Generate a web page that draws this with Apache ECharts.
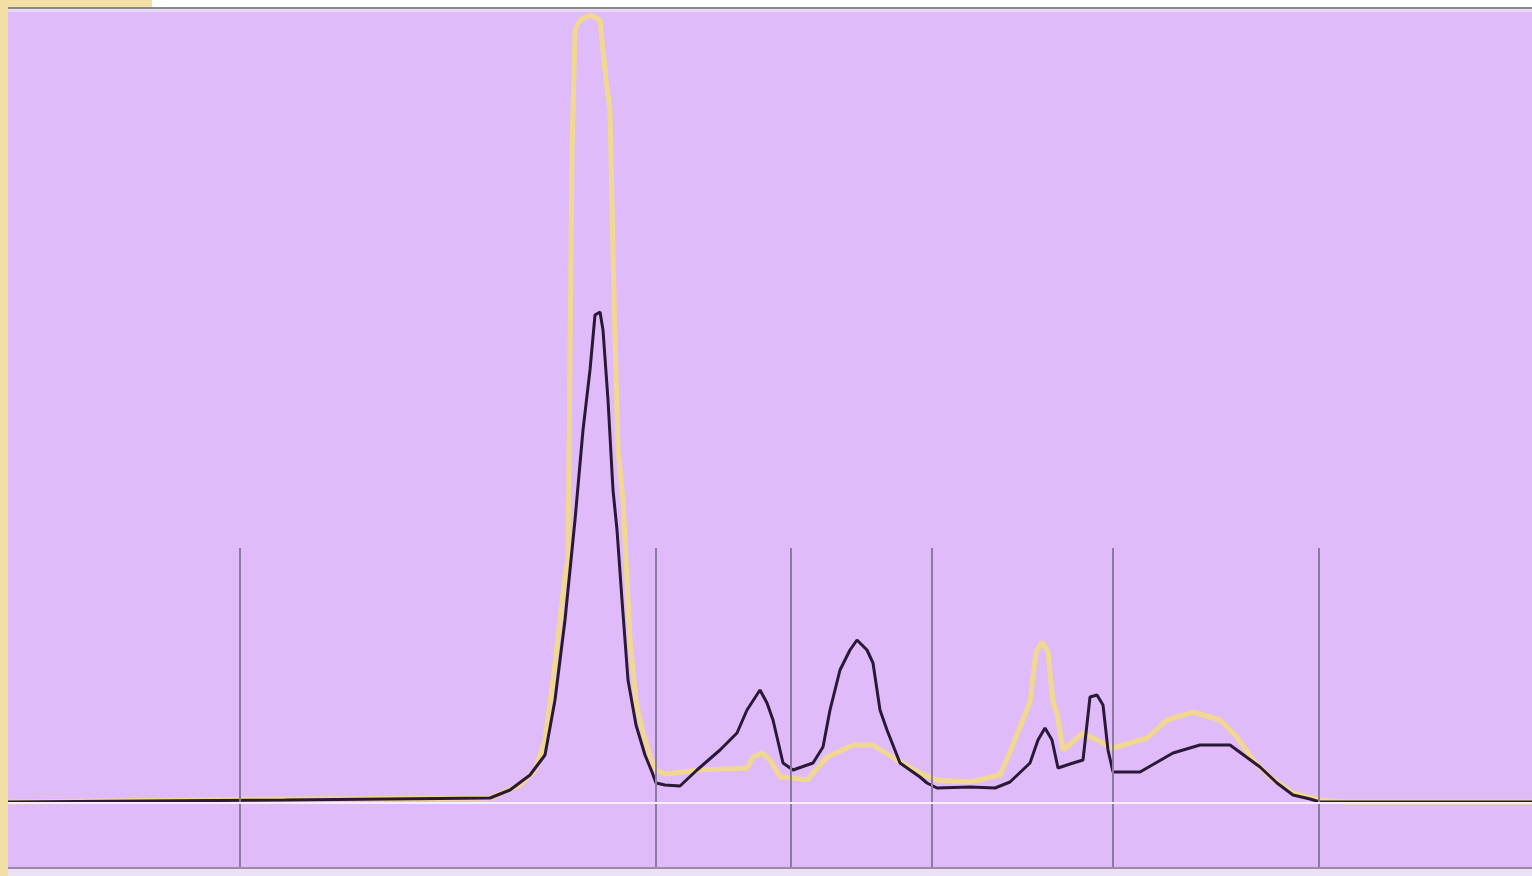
<!DOCTYPE html>
<html>
<head>
<meta charset="utf-8">
<script src="https://cdn.jsdelivr.net/npm/echarts@6/dist/echarts.min.js"></script>
<style>
html,body{margin:0;padding:0;background:#ffffff;}
#c{width:1532px;height:876px;}
</style>
</head>
<body>
<div id="c"></div>
<script>
// x = retention position, y = signal height above baseline (arbitrary units)
const darkX = [8, 285, 490, 510, 530, 545, 555, 565, 575, 583, 590, 595, 600, 603, 608, 613, 617, 622, 628, 636, 645, 652, 656, 665, 680, 697, 720, 737, 747, 760, 767, 773, 780, 783, 793, 813, 823, 830, 840, 850, 857, 867, 873, 880, 887, 900, 920, 927, 937, 970, 995, 1010, 1030, 1038, 1045, 1052, 1058, 1070, 1083, 1090, 1097, 1103, 1108, 1113, 1140, 1173, 1200, 1230, 1260, 1277, 1293, 1310, 1320, 1532];
const darkY = [0, 2, 4, 12, 27, 47, 102, 182, 282, 372, 432, 487, 490, 472, 402, 312, 272, 202, 122, 77, 47, 30, 19, 17, 16, 32, 52, 69, 92, 112, 99, 82, 52, 39, 32, 39, 55, 92, 132, 152, 162, 152, 139, 92, 72, 39, 25, 19, 14, 15, 14, 20, 39, 62, 74, 62, 34, 38, 42, 105, 107, 97, 52, 30, 30, 49, 57, 57, 35, 19, 7, 3, 0, 0];
const lightX = [8, 285, 490, 520, 535, 545, 553, 560, 565, 568, 572, 575, 580, 590, 600, 606, 610, 614, 618, 623, 630, 636, 643, 650, 656, 665, 700, 747, 753, 762, 770, 780, 793, 807, 827, 853, 873, 897, 920, 937, 970, 1000, 1010, 1020, 1030, 1036, 1042, 1048, 1053, 1057, 1063, 1083, 1113, 1147, 1167, 1193, 1220, 1237, 1253, 1270, 1293, 1320, 1345, 1532];
const lightY = [0, 3, 4, 17, 32, 62, 122, 182, 227, 242, 650, 772, 782, 787, 782, 722, 692, 502, 352, 302, 162, 100, 70, 45, 32, 28, 32, 34, 45, 49, 42, 25, 24, 22, 45, 57, 57, 42, 29, 22, 20, 27, 50, 75, 100, 150, 160, 150, 100, 89, 52, 69, 54, 64, 82, 90, 82, 65, 42, 25, 9, 2, 0, 0];
const markerX = [240, 656, 791, 932, 1113, 1319];
const markerTop = 254;
const yMin = -66, yMax = 794;

const pair = (xs, ys) => xs.map((x, i) => [x, ys[i]]);

const chart = echarts.init(document.getElementById('c'), null, {renderer: 'canvas'});
chart.setOption({
  backgroundColor: '#ffffff',
  animation: false,
  graphic: [
    {type: 'rect', shape: {x: 0, y: 0, width: 152, height: 8}, style: {fill: '#f1dfa6'}, z: 0},
    {type: 'rect', shape: {x: 0, y: 0, width: 8, height: 876}, style: {fill: '#f1dfa6'}, z: 0},
    {type: 'rect', shape: {x: 8, y: 868, width: 1524, height: 8}, style: {fill: '#ece0f4'}, z: 0},
    {type: 'rect', shape: {x: 8, y: 7, width: 1524, height: 2}, style: {fill: '#8c8a88'}, z: 10},
    {type: 'rect', shape: {x: 8, y: 9, width: 1524, height: 3}, style: {fill: '#ead6f6'}, z: 10},
    {type: 'rect', shape: {x: 8, y: 867, width: 1524, height: 2}, style: {fill: '#9a8aa8'}, z: 10}
  ],
  grid: {left: 8, right: 0, top: 8, bottom: 8, show: true, backgroundColor: '#e0bbf9', borderWidth: 0},
  xAxis: {type: 'value', min: 8, max: 1532, show: false},
  yAxis: {type: 'value', min: yMin, max: yMax, show: false},
  series: [
    {
      type: 'line', data: [], silent: true,
      markLine: {
        silent: true, symbol: 'none', label: {show: false},
        lineStyle: {color: '#8d7b9f', width: 2, type: 'solid'},
        data: markerX.map(x => [{coord: [x, yMin]}, {coord: [x, markerTop]}])
      }
    },
    {
      type: 'line', data: [], silent: true,
      markLine: {
        silent: true, symbol: 'none', label: {show: false},
        lineStyle: {color: '#f6eefc', width: 2, type: 'solid'},
        data: [[{coord: [8, -1]}, {coord: [1532, -1]}]]
      }
    },
    {
      name: 'light', type: 'line', data: pair(lightX, lightY), showSymbol: false,
      lineStyle: {color: '#f0d98a', width: 5, opacity: 0.95}, z: 3
    },
    {
      name: 'dark', type: 'line', data: pair(darkX, darkY), showSymbol: false,
      lineStyle: {color: '#2b1836', width: 3}, z: 4
    }
  ]
});
</script>
</body>
</html>
